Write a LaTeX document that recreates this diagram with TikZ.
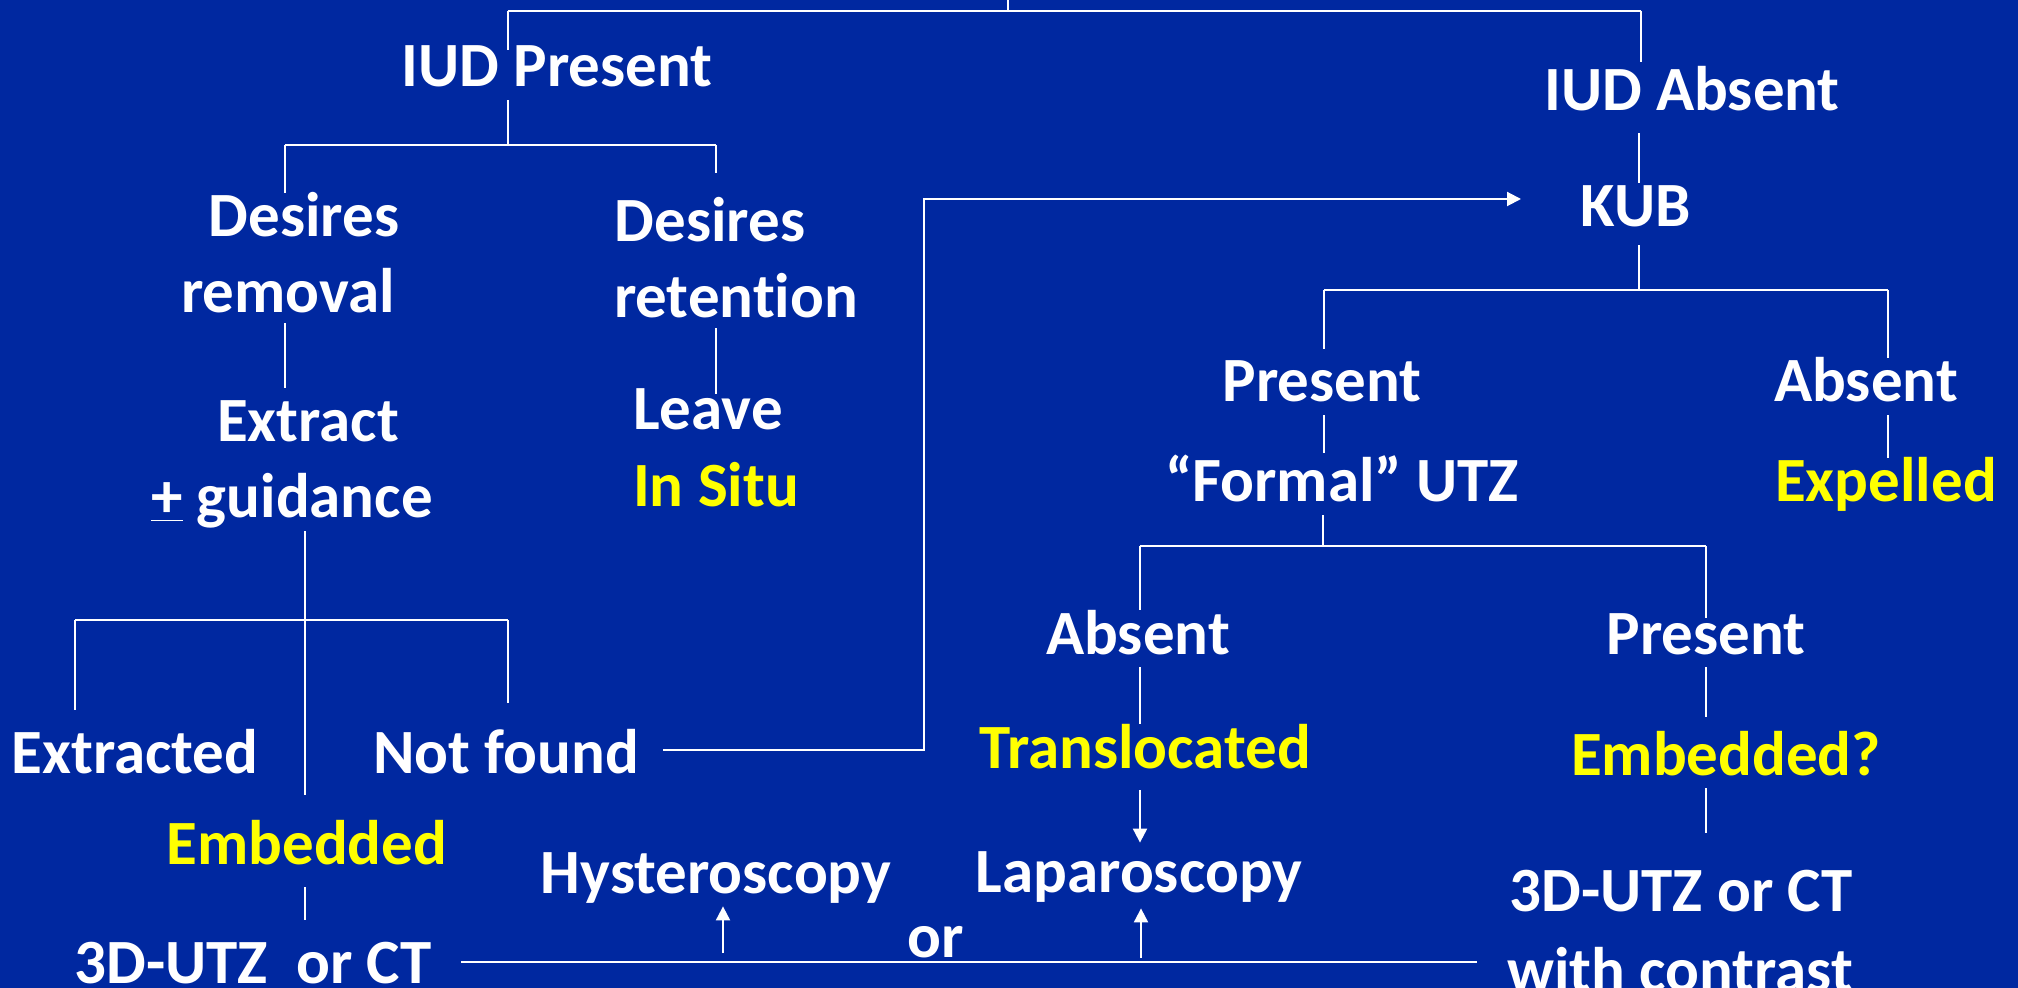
\documentclass[tikz,border=0pt]{standalone}
\usepackage{fontspec}
\setmainfont{Carlito}[Ligatures={NoCommon}]
\usetikzlibrary{arrows.meta}
\definecolor{bgblue}{RGB}{0,40,160}
\definecolor{hiyel}{RGB}{255,255,0}
\begin{document}
\begin{tikzpicture}[x=0.5pt,y=-0.5pt,
 txt/.style={inner sep=0pt,anchor=base,text=white,font=\fontsize{31.5}{38}\selectfont\bfseries,text height=22pt,text depth=6.5pt},
 ytxt/.style={txt,text=hiyel},
 ln/.style={draw=white,line width=1pt},
 arr/.style={ln,-{Triangle[length=7pt,width=7pt]}}]
\clip (0,0) rectangle (2018,988);
\fill[bgblue] (0,0) rectangle (2018,988);

% nodes
\node[txt] (iudp) at (557,87) {IUD Present};
\node[txt] (iuda) at (1692,111) {IUD Absent};
\node[txt] (kub) at (1636,227) {KUB};
\node[txt] (dr1) at (304,237) {Desires};
\node[txt] (dr2) at (288,313) {removal};
\node[txt] (dt1) at (710,242) {Desires};
\node[txt] (dt2) at (736,318) {retention};
\node[txt] (ex1) at (308,442) {Extract};
\node[txt] (ex2) at (292,518) {\underline{+} guidance};
\node[txt] (lv1) at (708,430) {Leave};
\node[ytxt] (lv2) at (716,507) {In Situ};
\node[txt] (ext) at (135,773) {Extracted};
\node[txt] (nf) at (506,773) {Not found};
\node[ytxt] (emb) at (307,864) {Embedded};
\node[txt] (ct1) at (253,983) {3D-UTZ\ \ or CT};
\node[txt] (hys) at (716,893) {Hysteroscopy};
\node[txt] (orn) at (936,957) {or};
\node[txt] (lap) at (1139,892) {Laparoscopy};
\node[txt] (kp) at (1322,402) {Present};
\node[txt] (ka) at (1866,402) {Absent};
\node[txt] (fu) at (1342,502) {“Formal” UTZ};
\node[ytxt] (exp) at (1886,502) {Expelled};
\node[txt] (fa) at (1138,654) {Absent};
\node[txt] (fp) at (1706,654) {Present};
\node[ytxt] (trl) at (1145,768) {Translocated};
\node[ytxt] (eq) at (1726,775) {Embedded?};
\node[txt] (ct2) at (1681,911) {3D-UTZ or CT};
\node[txt] (wc) at (1680,991) {with contrast};

% junction coordinates
\coordinate (tt) at (1008,0);
\coordinate (ttb) at (1008,11);
\coordinate (topl) at (508,11);
\coordinate (topr) at (1641,11);
\coordinate (b1) at (508,145);
\coordinate (b1l) at (285,145);
\coordinate (b1r) at (716,145);
\coordinate (g) at (305,620);
\coordinate (b2l) at (75,620);
\coordinate (b2r) at (508,620);
\coordinate (nfout) at (663,750);
\coordinate (turn) at (924,199);
\coordinate (kubin) at (1521,199);
\coordinate (ctl) at (461,962);
\coordinate (ctr) at (1477,962);
\coordinate (h0) at (723,953);
\coordinate (l0) at (1141,958);
\coordinate (b3) at (1639,290);
\coordinate (b3l) at (1324,290);
\coordinate (b3r) at (1888,290);
\coordinate (b4) at (1323,546);
\coordinate (b4l) at (1140,546);
\coordinate (b4r) at (1706,546);

% connectors
\draw[ln] (tt) -- (ttb);
\draw[ln] (topl) -- (topr);
\draw[ln,shorten >=-3.5pt] (topl) -- (topl |- iudp.north);
\draw[ln,shorten >=2.5pt] (topr) -- (topr |- iuda.north);
\draw[ln] (iudp.south -| b1) -- (b1);
\draw[ln] (b1l) -- (b1r);
\draw[ln] (b1l) -- (b1l |- dr1.north);
\draw[ln,shorten >=12.5pt] (b1r) -- (b1r |- dt1.north);
\draw[ln,shorten <=-1.5pt,shorten >=5pt] (dr2.south -| b1l) -- (ex1.north -| b1l);
\draw[ln,shorten <=-1.5pt,shorten >=-4pt] (dt2.south -| b1r) -- (lv1.north -| b1r);
\draw[ln,shorten >=12.5pt] (ex2.south -| g) -- (emb.north -| g);
\draw[ln] (b2l) -- (b2r);
\draw[ln,shorten >=9.5pt] (b2l) -- (b2l |- ext.north);
\draw[ln,shorten >=13pt] (b2r) -- (b2r |- nf.north);
\draw[arr] (nfout) -| (turn) -- (kubin);
\draw[ln,shorten <=5pt,shorten >=9.5pt] (emb.south -| g) -- (ct1.north -| g);
\draw[ln] (ctl) -- (ctr);
\draw[arr] (h0) -- (h0 |- hys.south);
\draw[arr,shorten >=1.5pt] (l0) -- (l0 |- lap.south);
\draw[ln,shorten <=4.5pt] (iuda.south -| b3) -- (kub.north -| b3);
\draw[ln,shorten <=2.5pt] (kub.south -| b3) -- (b3);
\draw[ln] (b3l) -- (b3r);
\draw[ln,shorten >=4.5pt] (b3l) -- (b3l |- kp.north);
\draw[ln] (b3r) -- (b3r |- ka.north);
\draw[ln,shorten >=2.5pt] (kp.south -| b3l) -- (fu.north -| b3l);
\draw[ln] (ka.south -| b3r) -- (exp.north -| b3r);
\draw[ln] (fu.south -| b4) -- (b4);
\draw[ln] (b4l) -- (b4r);
\draw[ln] (b4l) -- (b4l |- fa.north);
\draw[ln,shorten >=-4pt] (b4r) -- (b4r |- fp.north);
\draw[ln] (fa.south -| b4l) -- (trl.north -| b4l);
\draw[ln,shorten >=7pt] (fp.south -| b4r) -- (eq.north -| b4r);
\draw[arr,shorten <=4.5pt,shorten >=2.5pt] (trl.south -| b4l) -- (lap.north -| b4l);
\draw[ln,shorten >=17pt] (eq.south -| b4r) -- (ct2.north -| b4r);
\end{tikzpicture}
\end{document}
